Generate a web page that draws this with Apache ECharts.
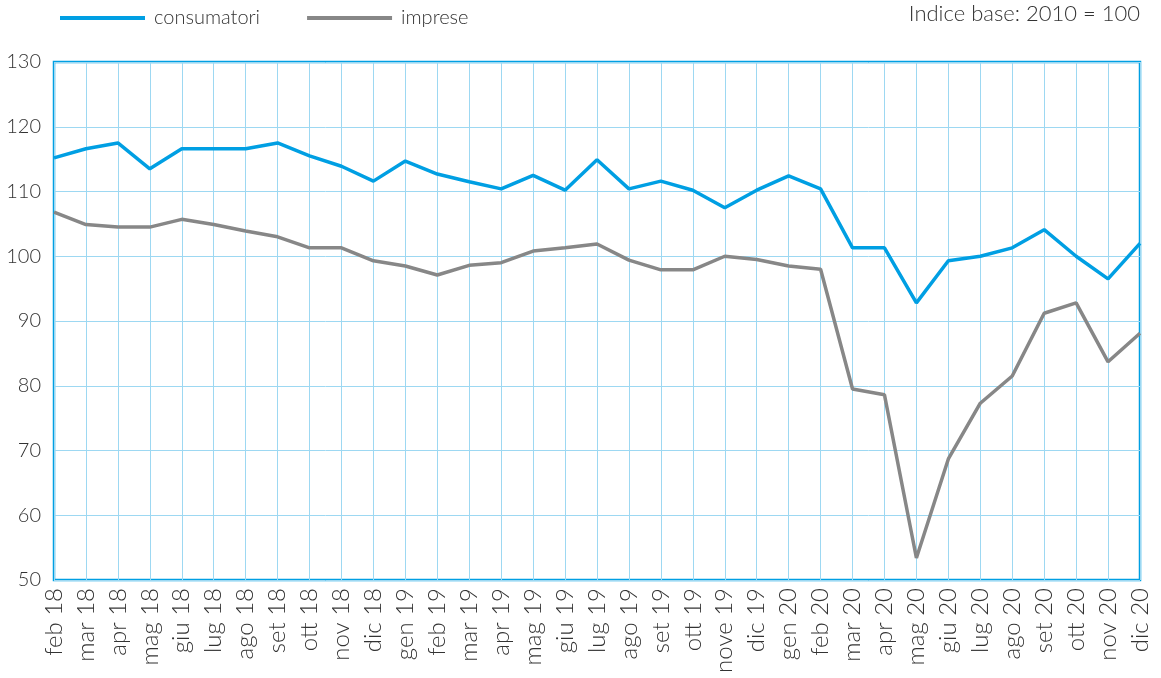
<!DOCTYPE html>
<html>
<head>
<meta charset="utf-8">
<script src="https://cdn.jsdelivr.net/npm/echarts@6/dist/echarts.min.js"></script>
<style>
  html, body { margin: 0; padding: 0; background: #fff; }
  #chart { width: 1161px; height: 678px; }
</style>
</head>
<body>
<div id="chart"></div>
<script>
var months = ['feb 18', 'mar 18', 'apr 18', 'mag 18', 'giu 18', 'lug 18', 'ago 18', 'set 18', 'ott 18', 'nov 18', 'dic 18',
  'gen 19', 'feb 19', 'mar 19', 'apr 19', 'mag 19', 'giu 19', 'lug 19', 'ago 19', 'set 19', 'ott 19', 'nove 19', 'dic 19',
  'gen 20', 'feb 20', 'mar 20', 'apr 20', 'mag 20', 'giu 20', 'lug 20', 'ago 20', 'set 20', 'ott 20', 'nov 20', 'dic 20'];

var consumatori = [115.2, 116.6, 117.5, 113.5, 116.6, 116.6, 116.6, 117.5, 115.5, 113.9, 111.6,
  114.7, 112.7, 111.5, 110.4, 112.5, 110.2, 114.9, 110.4, 111.6, 110.2, 107.5, 110.2,
  112.4, 110.4, 101.3, 101.3, 92.8, 99.3, 100.0, 101.3, 104.1, 100.0, 96.5, 102.0];

var imprese = [106.8, 104.9, 104.5, 104.5, 105.7, 104.9, 103.9, 103.0, 101.3, 101.3, 99.3,
  98.5, 97.1, 98.6, 99.0, 100.8, 101.3, 101.9, 99.4, 97.9, 97.9, 100.0, 99.5,
  98.5, 98.0, 79.5, 78.6, 53.4, 68.7, 77.3, 81.5, 91.2, 92.8, 83.7, 88.1];

var chart = echarts.init(document.getElementById('chart'))
var font = 'Lato, "Open Sans", sans-serif'
var gridColor = '#9dd8f2'
var frameColor = '#009fe3'

chart.setOption({
  animation: false,
  textStyle: { fontFamily: font },
  legend: {
    left: 55,
    top: 3,
    icon: 'rect',
    itemWidth: 85,
    itemHeight: 4,
    itemGap: 47,
    textStyle: { fontSize: 20, color: '#333', fontWeight: 300, padding: [0, 0, 0, 4] },
    data: ['consumatori', 'imprese'],
  },
  graphic: [
    {
      type: 'text',
      right: 21,
      top: 3,
      style: { text: 'Indice base: 2010 = 100', fontSize: 22, fill: '#333', fontFamily: font, fontWeight: 300 },
    },
  ],
  grid: {
    left: 54,
    right: 21,
    top: 62,
    bottom: 98,
    show: true,
    borderColor: frameColor,
    borderWidth: 2.5,
  },
  xAxis: {
    type: 'category',
    data: months,
    boundaryGap: false,
    axisLine: { show: false },
    axisTick: { show: false },
    axisLabel: {
      rotate: 90,
      interval: 0,
      margin: 8,
      fontSize: 24,
      color: '#333',
      fontWeight: 300,
    },
    splitLine: { show: true, lineStyle: { color: gridColor, width: 1 } },
  },
  yAxis: {
    type: 'value',
    min: 50,
    max: 130,
    interval: 10,
    axisLine: { show: false },
    axisTick: { show: false },
    axisLabel: { fontSize: 20, color: '#333', margin: 13, fontWeight: 300 },
    splitLine: { show: true, lineStyle: { color: gridColor, width: 1 } },
  },
  series: [
    {
      name: 'consumatori',
      type: 'line',
      data: consumatori,
      symbol: 'none',
      lineStyle: { color: '#009fe3', width: 3.5 },
      itemStyle: { color: '#009fe3' },
    },
    {
      name: 'imprese',
      type: 'line',
      data: imprese,
      symbol: 'none',
      lineStyle: { color: '#878787', width: 3.5 },
      itemStyle: { color: '#878787' },
    },
  ],
})
</script>
</body>
</html>
